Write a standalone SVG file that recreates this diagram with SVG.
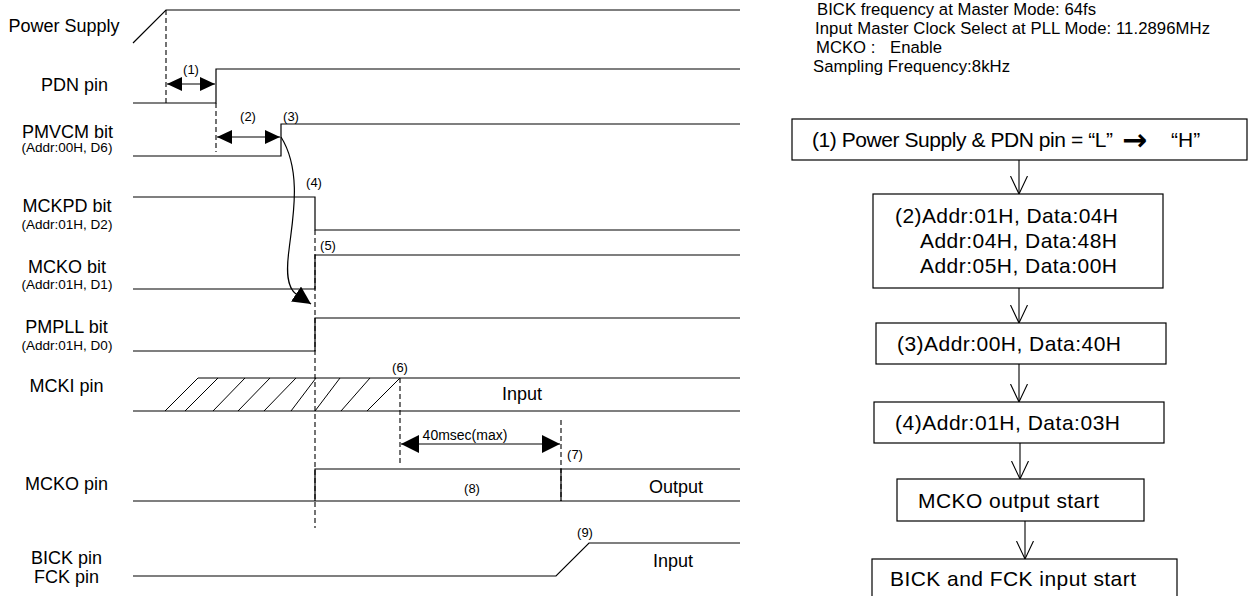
<svg xmlns="http://www.w3.org/2000/svg" width="1248" height="596" viewBox="0 0 1248 596">
<defs>
<style>
text{font-family:"Liberation Sans",Arial,sans-serif;fill:#000}
.lbl{font-size:18px;text-anchor:middle}
.sub{font-size:13.5px;text-anchor:middle}
.num{font-size:13px}
.big{font-size:18px}
.hdr{font-size:16.7px}
.flow{font-size:21px}
.arr{font-family:"DejaVu Sans",sans-serif;font-size:30px;font-weight:bold}
.sig{fill:none;stroke:#000;stroke-width:1.2}
.dash{fill:none;stroke:#000;stroke-width:1.1;stroke-dasharray:5,3}
.hat{fill:none;stroke:#000;stroke-width:1}
.box{fill:#fff;stroke:#000;stroke-width:1.2}
.conn{fill:none;stroke:#000;stroke-width:1.1}
</style>
<marker id="ah" markerUnits="userSpaceOnUse" markerWidth="18" markerHeight="14" refX="15" refY="7" orient="auto-start-reverse"><path d="M0,0 L15,7 L0,14 z" fill="#000"/></marker>
<marker id="ahL" markerUnits="userSpaceOnUse" markerWidth="20" markerHeight="20" refX="18" refY="9" orient="auto-start-reverse"><path d="M0,0 L18,9 L0,18 z" fill="#000"/></marker>
<marker id="ahC" markerUnits="userSpaceOnUse" markerWidth="22" markerHeight="22" refX="18" refY="9" orient="auto"><path d="M0,0 L18,9 L0,18 z" fill="#000"/></marker>
<marker id="vopen" markerUnits="userSpaceOnUse" markerWidth="22" markerHeight="20" refX="18" refY="9" orient="auto"><path d="M0,0.5 L18,9 L0,17.5" fill="none" stroke="#000" stroke-width="1.1"/></marker>
</defs>
<rect width="1248" height="596" fill="#fff"/>

<g id="timing-labels">
<text class="lbl" x="64" y="32">Power Supply</text>
<text class="lbl" x="74.5" y="91">PDN pin</text>
<text class="lbl" x="67.5" y="138">PMVCM bit</text>
<text class="sub" x="67" y="152">(Addr:00H, D6)</text>
<text class="lbl" x="67" y="212">MCKPD bit</text>
<text class="sub" x="67" y="229">(Addr:01H, D2)</text>
<text class="lbl" x="67" y="273">MCKO bit</text>
<text class="sub" x="67" y="289">(Addr:01H, D1)</text>
<text class="lbl" x="66.5" y="333">PMPLL bit</text>
<text class="sub" x="67" y="350">(Addr:01H, D0)</text>
<text class="lbl" x="66.5" y="392">MCKI pin</text>
<text class="lbl" x="66.5" y="490">MCKO pin</text>
<text class="lbl" x="66.5" y="564">BICK pin</text>
<text class="lbl" x="66.5" y="583">FCK pin</text>
</g>

<g id="waveforms">
<polyline class="sig" points="133,43 166,10 740,10"/>
<polyline class="sig" points="133,103 216,103 216,69 740,69"/>
<polyline class="sig" points="133,156 281,156 281,124 740,124"/>
<polyline class="sig" points="133,197 315,197 315,230 740,230"/>
<polyline class="sig" points="133,289 315,289 315,255 740,255"/>
<polyline class="sig" points="133,351 315,351 315,318 740,318"/>
<line class="sig" x1="133" y1="411" x2="740" y2="411"/>
<line class="sig" x1="198" y1="378" x2="740" y2="378"/>
<g id="hatch">
<line class="hat" x1="165" y1="411" x2="198" y2="378"/>
<line class="hat" x1="185" y1="411" x2="218" y2="378"/>
<line class="hat" x1="213" y1="411" x2="245" y2="378"/>
<line class="hat" x1="238" y1="411" x2="270" y2="378"/>
<line class="hat" x1="264" y1="411" x2="296" y2="378"/>
<line class="hat" x1="291" y1="411" x2="316" y2="378"/>
<line class="hat" x1="315" y1="411" x2="340" y2="378"/>
<line class="hat" x1="341" y1="411" x2="370" y2="378"/>
<line class="hat" x1="367" y1="411" x2="400" y2="378"/>
</g>
<line class="sig" x1="133" y1="501" x2="740" y2="501"/>
<polyline class="sig" points="315,501 315,469 740,469"/>
<line class="sig" x1="561" y1="469" x2="561" y2="501"/>
<polyline class="sig" points="133,576 556,576 589,543 740,543"/>
<text class="big" x="522" y="400" text-anchor="middle">Input</text>
<text class="big" x="676" y="493" text-anchor="middle">Output</text>
<text class="big" x="673" y="567" text-anchor="middle">Input</text>
</g>

<g id="connectors">
<line class="dash" x1="166" y1="10" x2="166" y2="103"/>
<line class="dash" x1="216" y1="103" x2="216" y2="152"/>
<line class="dash" x1="315" y1="230" x2="315" y2="528"/>
<line class="dash" x1="400" y1="378" x2="400" y2="463"/>
<line class="dash" x1="561" y1="420" x2="561" y2="501"/>
<line class="sig" x1="167" y1="84" x2="215" y2="84" marker-start="url(#ah)" marker-end="url(#ah)"/>
<line class="sig" x1="217" y1="137" x2="280" y2="137" marker-start="url(#ah)" marker-end="url(#ah)"/>
<line class="sig" x1="401" y1="444" x2="560" y2="444" marker-start="url(#ahL)" marker-end="url(#ahL)"/>
<path class="sig" d="M281,137 C303,172 292,222 289,250 C286,272 287,287 296,294 L311,304" marker-end="url(#ahC)"/>
<text class="num" x="191" y="74" text-anchor="middle">(1)</text>
<text class="num" x="248" y="121" text-anchor="middle">(2)</text>
<text class="num" x="291" y="121" text-anchor="middle">(3)</text>
<text class="num" x="314" y="187" text-anchor="middle">(4)</text>
<text class="num" x="328" y="250" text-anchor="middle">(5)</text>
<text class="num" x="400" y="372" text-anchor="middle">(6)</text>
<text class="num" x="575" y="459" text-anchor="middle">(7)</text>
<text class="num" x="472" y="493" text-anchor="middle">(8)</text>
<text class="num" x="585" y="537" text-anchor="middle">(9)</text>
<text style="font-size:14px" x="465" y="440" text-anchor="middle">40msec(max)</text>
<line class="conn" x1="1019" y1="160" x2="1019" y2="194" marker-end="url(#vopen)"/>
<line class="conn" x1="1019" y1="288" x2="1019" y2="323" marker-end="url(#vopen)"/>
<line class="conn" x1="1019" y1="364" x2="1019" y2="402" marker-end="url(#vopen)"/>
<line class="conn" x1="1020" y1="443" x2="1020" y2="479" marker-end="url(#vopen)"/>
<line class="conn" x1="1025" y1="521" x2="1025" y2="559" marker-end="url(#vopen)"/>
</g>

<g id="settings">
<text class="hdr" x="817" y="15" textLength="279">BICK frequency at Master Mode: 64fs</text>
<text class="hdr" x="815" y="34" textLength="395">Input Master Clock Select at PLL Mode: 11.2896MHz</text>
<text class="hdr" y="53"><tspan x="816">MCKO :</tspan><tspan x="890">Enable</tspan></text>
<text class="hdr" x="813" y="72" textLength="197">Sampling Frequency:8kHz</text>
</g>

<g id="step1">
<rect class="box" x="792" y="119" width="455" height="41"/>
<text class="flow" y="147"><tspan x="812" textLength="301">(1) Power Supply &amp; PDN pin = “L”</tspan><tspan class="arr" x="1122" y="150">→</tspan><tspan x="1171" y="147">“H”</tspan></text>
</g>
<g id="step2">
<rect class="box" x="873" y="194" width="290" height="94"/>
<text class="flow" x="895" y="223" textLength="223">(2)Addr:01H, Data:04H</text>
<text class="flow" x="920" y="248" textLength="197">Addr:04H, Data:48H</text>
<text class="flow" x="920" y="273" textLength="197">Addr:05H, Data:00H</text>
</g>
<g id="step3">
<rect class="box" x="876" y="323" width="290" height="41"/>
<text class="flow" x="897" y="351" textLength="224">(3)Addr:00H, Data:40H</text>
</g>
<g id="step4">
<rect class="box" x="874" y="402" width="290" height="41"/>
<text class="flow" x="895" y="430" textLength="225">(4)Addr:01H, Data:03H</text>
</g>
<g id="step5">
<rect class="box" x="897" y="479" width="247" height="42"/>
<text class="flow" x="918" y="508" textLength="181">MCKO output start</text>
</g>
<g id="step6">
<rect class="box" x="872" y="559" width="305" height="50"/>
<text class="flow" x="890" y="586" textLength="246">BICK and FCK input start</text>
</g>
</svg>
